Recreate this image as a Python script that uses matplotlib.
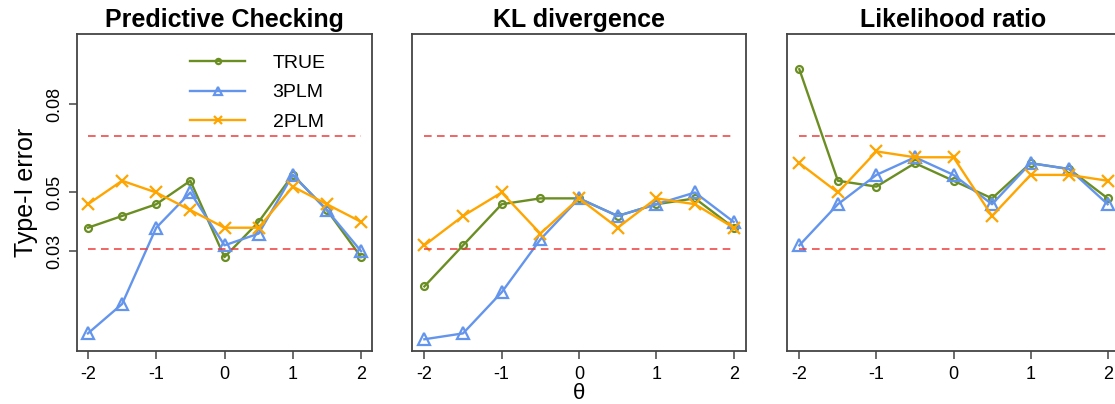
import matplotlib
matplotlib.use('Agg')
import matplotlib.pyplot as plt

plt.rcParams['font.family'] = ['Liberation Sans', 'DejaVu Sans']

theta = [-2, -1.5, -1, -0.5, 0, 0.5, 1, 1.5, 2]
titles = ['Predictive Checking', 'KL divergence', 'Likelihood ratio']
labels = ['TRUE', '3PLM', '2PLM']

# type-I error rates per panel: TRUE, 3PLM, 2PLM
pc_true = [0.038, 0.042, 0.046, 0.054, 0.028, 0.040, 0.056, 0.044, 0.028]
pc_3plm = [0.002, 0.012, 0.038, 0.050, 0.032, 0.036, 0.056, 0.044, 0.030]
pc_2plm = [0.046, 0.054, 0.050, 0.044, 0.038, 0.038, 0.052, 0.046, 0.040]

kl_true = [0.018, 0.032, 0.046, 0.048, 0.048, 0.042, 0.046, 0.048, 0.038]
kl_3plm = [0.000, 0.002, 0.016, 0.034, 0.048, 0.042, 0.046, 0.050, 0.040]
kl_2plm = [0.032, 0.042, 0.050, 0.036, 0.048, 0.038, 0.048, 0.046, 0.038]

lr_true = [0.092, 0.054, 0.052, 0.060, 0.054, 0.048, 0.060, 0.058, 0.048]
lr_3plm = [0.032, 0.046, 0.056, 0.062, 0.056, 0.046, 0.060, 0.058, 0.046]
lr_2plm = [0.060, 0.050, 0.064, 0.062, 0.062, 0.042, 0.056, 0.056, 0.054]

bounds = [0.0309, 0.0691]
yticks = [0.03, 0.05, 0.08]

panels = [(pc_true, pc_3plm, pc_2plm),
          (kl_true, kl_3plm, kl_2plm),
          (lr_true, lr_3plm, lr_2plm)]

colors = ['#6B8E23', '#6495ED', '#FFA500']
markers = ['o', '^', 'x']
msizes = [5, 8.5, 8]

fig = plt.figure(figsize=(11.15, 4.04), dpi=100)
lefts = [77, 412, 787]
widths = [295, 334, 333]

for i, series in enumerate(panels):
    ax = fig.add_axes([lefts[i] / 1115, 53 / 404, widths[i] / 1115, 317 / 404])
    for s, c, m, ms, lab in zip(series, colors, markers, msizes, labels):
        ax.plot(theta, s, color=c, marker=m, markersize=ms, markerfacecolor='none',
                markeredgewidth=1.6, lw=1.7, label=lab)
    for b in bounds:
        ax.plot([theta[0], theta[-1]], [b, b], color='#EE3B3B', lw=1.1,
                dashes=(5, 3.5))
    ax.set_xlim(-2.16, 2.16)
    ax.set_ylim(-0.004, 0.104)
    ax.set_xticks([-2, -1, 0, 1, 2])
    ax.set_xticklabels(['-2', '-1', '0', '1', '2'])
    ax.tick_params(axis='x', length=6, width=1.1, color='#444444', labelsize=13, pad=5)
    if i == 0:
        ax.set_yticks(yticks)
        ax.set_yticklabels(['0.03', '0.05', '0.08'], rotation=90, va='center')
        ax.tick_params(axis='y', length=6, width=1.1, color='#444444', labelsize=13, pad=4)
        ax.set_ylabel('Type-I error', fontsize=18, labelpad=6)
        ax.legend(loc='upper left', bbox_to_anchor=(0.383, 0.937), frameon=False,
                  fontsize=14, handlelength=2.85, handletextpad=1.4,
                  labelspacing=0.63, borderpad=0, borderaxespad=0, markerscale=0.75)
    else:
        ax.set_yticks([])
    if i == 1:
        ax.set_xlabel('\u03b8', fontsize=16, labelpad=0)
    ax.set_title(titles[i], fontsize=18, fontweight='bold', pad=5)
    for sp in ax.spines.values():
        sp.set_color('#444444')
        sp.set_linewidth(1.3)

fig.savefig('out.png', dpi=100)
